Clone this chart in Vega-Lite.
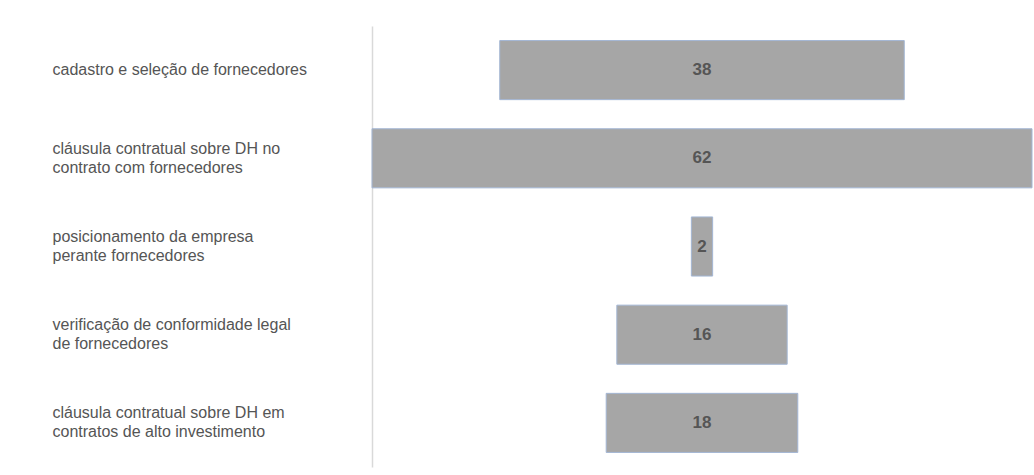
{
  "$schema": "https://vega.github.io/schema/vega-lite/v6.json",
  "autosize": "none",
  "width": 660,
  "height": 441,
  "padding": {"left": 372, "top": 26, "right": 2, "bottom": 8},
  "background": "white",
  "config": {"view": {"stroke": null}, "font": "Liberation Sans"},
  "data": {
    "values": [
      {"cat": "cadastro e seleção de fornecedores", "n": 38},
      {"cat": "cláusula contratual sobre DH no|contrato com fornecedores", "n": 62},
      {"cat": "posicionamento da empresa|perante fornecedores", "n": 2},
      {"cat": "verificação de conformidade legal|de fornecedores", "n": 16},
      {"cat": "cláusula contratual sobre DH em|contratos de alto investimento", "n": 18}
    ]
  },
  "encoding": {
    "y": {
      "field": "cat",
      "type": "nominal",
      "sort": null,
      "scale": {"paddingInner": 0.33, "paddingOuter": 0.165},
      "axis": {
        "title": null,
        "ticks": false,
        "labelAlign": "left",
        "labelPadding": 320,
        "labelFontSize": 16,
        "labelColor": "#555555",
        "labelLineHeight": 19,
        "labelLimit": 0,
        "labelOffset": {"condition": {"test": "indexof(datum.value, '|') >= 0", "value": -9.5}, "value": 0},
        "labelExpr": "split(datum.label, '|')",
        "domainColor": "#d9d9d9",
        "domainWidth": 1.5
      }
    }
  },
  "layer": [
    {
      "mark": {"type": "bar", "fill": "#a6a6a6", "stroke": "#a3b6d4", "strokeWidth": 1},
      "encoding": {
        "x": {
          "field": "n",
          "type": "quantitative",
          "stack": "center",
          "scale": {"domain": [0, 62], "nice": false, "zero": false},
          "axis": null
        }
      }
    },
    {
      "mark": {"type": "text", "fontSize": 17, "fontWeight": "bold", "color": "#555555", "baseline": "middle"},
      "encoding": {
        "x": {"datum": 31, "type": "quantitative"},
        "text": {"field": "n", "type": "quantitative"}
      }
    }
  ]
}
